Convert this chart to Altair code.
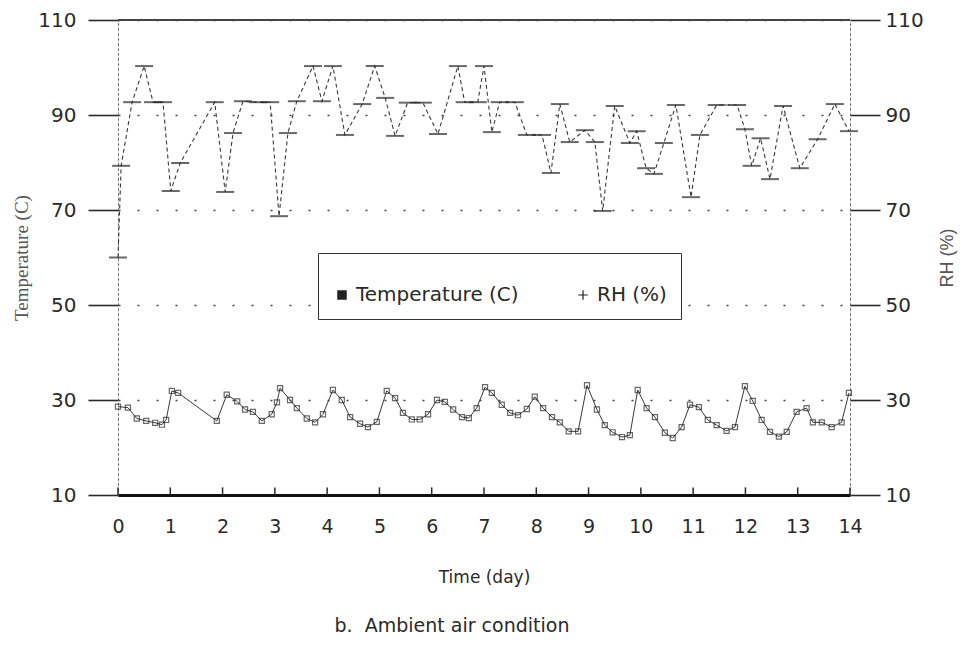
import altair as alt
import pandas as pd

# ---- data ----
temp_day = [0.00, 0.19, 0.36, 0.54, 0.71, 0.84, 0.92, 1.03, 1.15, 1.89, 2.08, 2.28,
            2.43, 2.58, 2.75, 2.94, 3.04, 3.10, 3.29, 3.42, 3.61, 3.77, 3.92, 4.11,
            4.28, 4.44, 4.63, 4.78, 4.95, 5.14, 5.30, 5.45, 5.62, 5.77, 5.93, 6.10,
            6.25, 6.41, 6.58, 6.71, 6.86, 7.02, 7.15, 7.34, 7.50, 7.65, 7.82, 7.97,
            8.13, 8.30, 8.45, 8.62, 8.80, 8.97, 9.16, 9.31, 9.46, 9.64, 9.79, 9.94,
            10.11, 10.27, 10.46, 10.61, 10.78, 10.94, 11.11, 11.28, 11.45, 11.64, 11.80,
            11.99, 12.14, 12.31, 12.47, 12.64, 12.79, 12.98, 13.17, 13.29, 13.46, 13.65,
            13.84, 13.98]
temp_val = [28.6, 28.4, 26.1, 25.6, 25.2, 24.8, 25.8, 31.9, 31.5, 25.6, 31.1, 29.7,
            28.0, 27.5, 25.6, 27.0, 29.5, 32.5, 30.0, 28.3, 26.1, 25.3, 27.0, 32.1,
            30.0, 26.4, 25.0, 24.3, 25.4, 31.9, 30.4, 27.3, 25.9, 25.9, 27.0, 30.0,
            29.6, 28.0, 26.4, 26.2, 28.3, 32.7, 31.5, 29.0, 27.3, 26.8, 28.1, 30.7,
            28.3, 26.4, 25.3, 23.4, 23.4, 33.1, 28.0, 24.7, 23.2, 22.2, 22.6, 32.1,
            28.3, 26.4, 23.1, 22.0, 24.3, 29.0, 28.5, 25.8, 24.7, 23.5, 24.3,
            32.9, 29.8, 25.8, 23.3, 22.3, 23.3, 27.5, 28.3, 25.3, 25.3, 24.3,
            25.3, 31.5]

rh_day = [0.00, 0.06, 0.27, 0.50, 0.67, 0.86, 1.01, 1.19, 1.85, 2.05, 2.20, 2.39,
          2.68, 2.91, 3.08, 3.25, 3.42, 3.73, 3.90, 4.11, 4.34, 4.67, 4.91, 5.11,
          5.30, 5.54, 5.83, 6.12, 6.50, 6.63, 6.88, 7.00, 7.15, 7.30, 7.59, 7.82,
          8.11, 8.28, 8.45, 8.64, 8.93, 9.12, 9.27, 9.50, 9.79, 9.92, 10.10, 10.25,
          10.44, 10.67, 10.96, 11.13, 11.45, 11.84, 11.99, 12.12, 12.29, 12.47, 12.72,
          13.04, 13.38, 13.71, 13.98]
rh_val = [60.0, 79.3, 92.7, 100.3, 92.7, 92.7, 74.0, 79.9, 92.7, 73.8, 86.2, 92.9,
          92.7, 92.7, 68.7, 86.2, 92.9, 100.3, 92.9, 100.3, 85.8, 92.3, 100.3, 93.6,
          85.6, 92.6, 92.6, 86.0, 100.3, 92.7, 92.7, 100.3, 86.4, 92.7, 92.7, 85.8,
          85.8, 77.8, 92.3, 84.3, 86.8, 84.3, 69.8, 91.9, 84.1, 86.6, 78.8, 77.6,
          84.1, 92.1, 72.7, 85.8, 92.1, 92.1, 87.0, 79.3, 85.1, 76.5, 91.9,
          78.8, 84.9, 92.3, 86.6]

day_ticks = list(range(15))
y_ticks = [10, 30, 50, 70, 90, 110]
series_names = ["Temperature (C)", "RH (%)"]
caption = "b.\u00a0\u00a0Ambient air condition"

temp_df = pd.DataFrame({"day": temp_day, "value": temp_val, "series": series_names[0]})
rh_df = pd.DataFrame({"day": rh_day, "value": rh_val, "series": series_names[1]})
tick_df = pd.DataFrame({"day": day_ticks})

FONT = "DejaVu Sans"
SERIF = "Liberation Serif"
INK = "#2a2a2a"
LINE = "#3a3a3a"
PLUS = "M-1,-0.13H1V0.13H-1Z M-0.13,-1H0.13V1H-0.13Z"

xscale = alt.Scale(domain=[0, 14], nice=False, zero=False)
yscale = alt.Scale(domain=[10, 110], nice=False, zero=False)

x_axis = alt.Axis(values=day_ticks, ticks=False, grid=False, labelPadding=22,
                  domainWidth=3, domainColor="#111", labelFont=FONT, labelFontSize=19,
                  labelColor=INK, labelFlush=False, title="Time (day)", titleFont=FONT,
                  titleFontSize=17, titleFontWeight="normal", titleColor=INK,
                  titlePadding=33)
x_enc = alt.X("day:Q", scale=xscale, axis=x_axis)

left_axis = alt.Axis(values=y_ticks, orient="left", tickSize=30, tickWidth=1.6,
                     tickColor=INK, domainDash=[2, 3], domainColor="#555",
                     grid=True, gridDash=[2, 17], gridColor="#444", gridWidth=1.5,
                     labelFont=FONT, labelFontSize=20, labelColor=INK, labelPadding=12,
                     title="Temperature (C)", titleFont=SERIF, titleFontSize=19,
                     titleFontWeight="normal", titleColor="#555", titlePadding=6)
right_axis = alt.Axis(values=y_ticks, orient="right", tickSize=30, tickWidth=1.6,
                      tickColor=INK, domainDash=[2, 3], domainColor="#555",
                      grid=False, labelFont=FONT, labelFontSize=20, labelColor=INK,
                      labelPadding=5, title="RH (%)", titleFont="Liberation Sans",
                      titleFontSize=18, titleFontWeight="normal", titleColor="#555",
                      titlePadding=33, titleAngle=270)

y_left = alt.Y("value:Q", scale=yscale, axis=left_axis)
y_right = alt.Y("value:Q", scale=yscale, axis=right_axis)

legend = alt.Legend(orient="none", legendX=200, legendY=233, direction="horizontal",
                    title=" ", titleFontSize=10, titlePadding=8, strokeColor="#333",
                    fillColor="white", padding=14, labelFont=FONT, labelFontSize=20,
                    labelColor=INK, symbolSize=90, symbolStrokeColor="#222",
                    symbolStrokeWidth=0.5, symbolOpacity=1, columnPadding=54,
                    labelLimit=400)

temp_line = alt.Chart(temp_df).mark_line(color=LINE, strokeWidth=1).encode(x=x_enc, y=y_left)
temp_pts = alt.Chart(temp_df).mark_point(shape="square", filled=False, size=26,
                                         strokeWidth=1.2, color=INK).encode(x=x_enc, y=y_left)
# legend-only layer: no rows drawn, entries come from the shape scale domain
legend_layer = alt.Chart(temp_df).transform_filter("false").mark_point(
    filled=True, color="#222").encode(
    x=x_enc, y=y_left,
    shape=alt.Shape("series:N", scale=alt.Scale(domain=series_names, range=["square", PLUS]),
                    legend=legend))
top_rule = alt.Chart(tick_df).mark_rule(color="#444", strokeWidth=1.6).encode(y=alt.datum(110))
x_ticks = alt.Chart(tick_df).mark_rule(color=INK, strokeWidth=1.5).encode(
    x=alt.X("day:Q", scale=xscale), y=alt.datum(10), y2=alt.datum(11.6))

left_group = alt.layer(temp_line, temp_pts, legend_layer, top_rule, x_ticks)

rh_line = alt.Chart(rh_df).mark_line(color=LINE, strokeWidth=1.1, strokeDash=[4, 3]).encode(
    x=x_enc, y=y_right)
rh_marks = alt.Chart(rh_df).mark_tick(orient="horizontal", size=18, thickness=2, color=INK).encode(
    x=x_enc, y=y_right)
right_group = alt.layer(rh_line, rh_marks)

chart = alt.layer(left_group, right_group).resolve_scale(y="independent").properties(
    width=732, height=475,
    autosize=alt.AutoSizeParams(type="none"),
    padding={"left": 110, "top": 12, "right": 108, "bottom": 143},
    title=alt.TitleParams(caption, orient="bottom", anchor="middle", font=FONT,
                          fontSize=19, fontWeight="normal", color=INK, offset=32, dx=-32),
).configure_view(stroke=None).configure(background="white")

chart.save("out.html", embed_options={"renderer": "svg", "actions": False})
